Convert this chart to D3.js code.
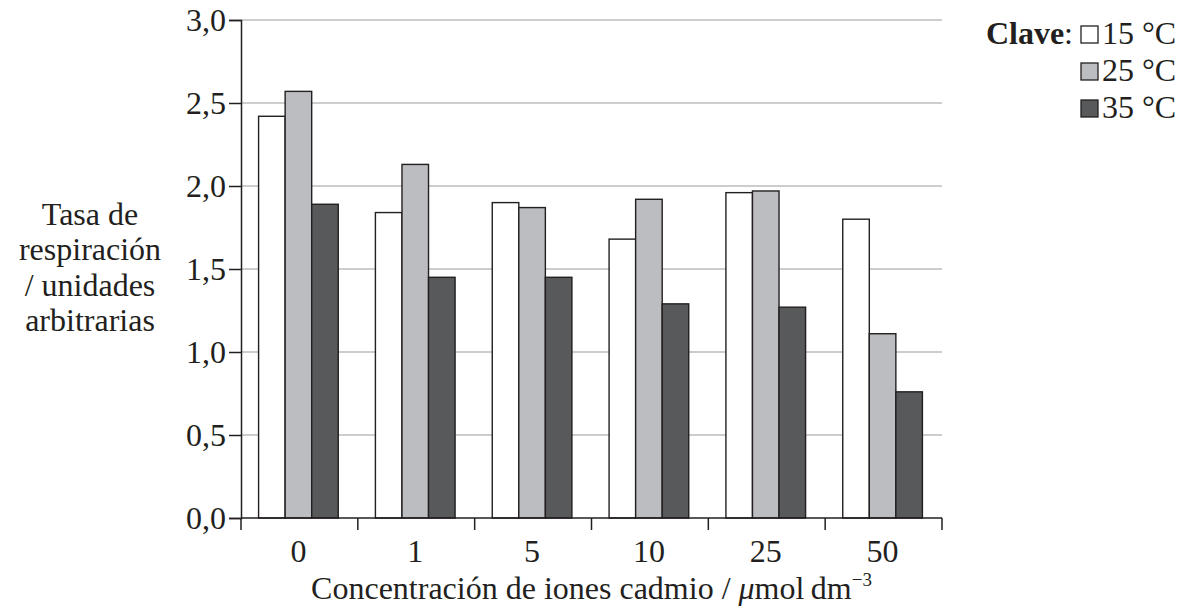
<!DOCTYPE html>
<html>
<head>
<meta charset="utf-8">
<script src="https://cdn.jsdelivr.net/npm/d3@7"></script>
<style>
  body { margin: 0; background: #fff; }
  text { font-family: "Liberation Serif", "Times New Roman", serif; fill: #231f20; }
</style>
</head>
<body>
<div id="chart"></div>
<script>
// data
const concentrations = ["0", "1", "5", "10", "25", "50"];
const temps = ["15 °C", "25 °C", "35 °C"];
const rate15 = [2.42, 1.84, 1.90, 1.68, 1.96, 1.80];
const rate25 = [2.57, 2.13, 1.87, 1.92, 1.97, 1.11];
const rate35 = [1.89, 1.45, 1.45, 1.29, 1.27, 0.76];
const yTicks = [0, 0.5, 1.0, 1.5, 2.0, 2.5, 3.0];
const barColors = ["#ffffff", "#bcbdc0", "#58595b"];

const width = 1185, height = 608;
const plotLeft = 241, plotRight = 942, plotTop = 20, plotBottom = 518;
const fs = 32;

const svg = d3.select("#chart").append("svg")
  .attr("width", width)
  .attr("height", height);

const x = d3.scaleBand()
  .domain(concentrations)
  .range([plotLeft, plotRight])
  .paddingInner(0)
  .paddingOuter(0);

const xInner = d3.scaleBand()
  .domain(temps)
  .range([0, x.bandwidth()])
  .paddingOuter(0.7)
  .paddingInner(0);

const y = d3.scaleLinear()
  .domain([0, 3])
  .range([plotBottom, plotTop]);

// gridlines
svg.append("g")
  .selectAll("line")
  .data(yTicks.filter(d => d > 0))
  .enter()
  .append("line")
  .attr("x1", plotLeft).attr("x2", plotRight)
  .attr("y1", d => y(d)).attr("y2", d => y(d))
  .attr("stroke", "#bdbdbd")
  .attr("stroke-width", 1.5);

// bars
const series = [rate15, rate25, rate35];
const groups = svg.append("g")
  .selectAll("g")
  .data(concentrations)
  .enter()
  .append("g")
  .attr("transform", d => `translate(${x(d) - 1},0)`);

groups.selectAll("rect")
  .data((d, i) => temps.map((t, j) => ({ t: t, j: j, v: series[j][i] })))
  .enter()
  .append("rect")
  .attr("x", d => xInner(d.t))
  .attr("y", d => y(d.v))
  .attr("width", xInner.bandwidth())
  .attr("height", d => plotBottom - y(d.v))
  .attr("fill", d => barColors[d.j])
  .attr("stroke", "#231f20")
  .attr("stroke-width", 1.4);

// y axis
const yAxis = d3.axisLeft(y)
  .tickValues(yTicks)
  .tickSize(12)
  .tickPadding(3)
  .tickFormat(d => d3.format(".1f")(d).replace(".", ","));
const gy = svg.append("g")
  .attr("transform", `translate(${plotLeft},0)`)
  .call(yAxis);
gy.select(".domain").attr("stroke", "#231f20").attr("stroke-width", 1.5);
gy.selectAll(".tick line").attr("stroke", "#231f20").attr("stroke-width", 1.5);
gy.selectAll(".tick text")
  .attr("font-size", fs)
  .attr("fill", "#231f20");

// x axis: ticks at band edges, labels centred in bands
const xEdges = concentrations.map(d => x(d)).concat([plotRight]);
const gx = svg.append("g");
gx.append("line")
  .attr("x1", plotLeft).attr("x2", plotRight)
  .attr("y1", plotBottom).attr("y2", plotBottom)
  .attr("stroke", "#231f20").attr("stroke-width", 1.5);
gx.selectAll("line.tick")
  .data(xEdges)
  .enter()
  .append("line")
  .attr("class", "tick")
  .attr("x1", d => d).attr("x2", d => d)
  .attr("y1", plotBottom).attr("y2", plotBottom + 12)
  .attr("stroke", "#231f20").attr("stroke-width", 1.5);
gx.selectAll("text")
  .data(concentrations)
  .enter()
  .append("text")
  .attr("x", d => x(d) + x.bandwidth() / 2 - 1)
  .attr("y", 562)
  .attr("text-anchor", "middle")
  .attr("font-size", fs)
  .text(d => d);

// x title
const xt = svg.append("text")
  .attr("x", (plotLeft + plotRight) / 2)
  .attr("y", 599)
  .attr("text-anchor", "middle")
  .attr("font-size", fs);
xt.append("tspan").text("Concentración de iones cadmio / ");
xt.append("tspan").attr("font-style", "italic").text("μ");
xt.append("tspan").text("mol\u2009dm");
xt.append("tspan").attr("font-size", 19).attr("dy", -13).text("−3");

// y title
const yLines = ["Tasa de", "respiración", "/ unidades", "arbitrarias"];
svg.append("g")
  .selectAll("text")
  .data(yLines)
  .enter()
  .append("text")
  .attr("x", 90)
  .attr("y", (d, i) => 225 + i * 35.3)
  .attr("text-anchor", "middle")
  .attr("font-size", fs)
  .text(d => d);

// legend
svg.append("text")
  .attr("x", 1073).attr("y", 44)
  .attr("text-anchor", "end")
  .attr("font-size", fs)
  .html("<tspan font-weight='bold'>Clave</tspan>:");

const legend = svg.append("g")
  .selectAll("g")
  .data(temps)
  .enter()
  .append("g")
  .attr("transform", (d, i) => `translate(1080,${44 + i * 37})`);
legend.append("rect")
  .attr("x", 1).attr("y", -18)
  .attr("width", 17).attr("height", 17)
  .attr("fill", (d, i) => barColors[i])
  .attr("stroke", "#231f20")
  .attr("stroke-width", 1.3);
legend.append("text")
  .attr("x", 22).attr("y", 0)
  .attr("font-size", fs)
  .text(d => d);
</script>
</body>
</html>
